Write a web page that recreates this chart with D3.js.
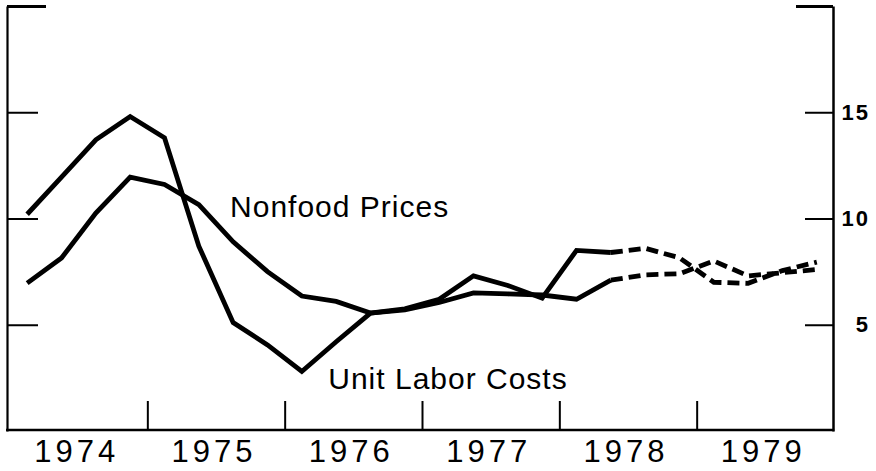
<!DOCTYPE html>
<html>
<head>
<meta charset="utf-8">
<script src="https://cdn.jsdelivr.net/npm/d3@7"></script>
<style>
body { margin: 0; background: #fff; }
svg { display: block; font-family: "Liberation Sans", Arial, Helvetica, sans-serif; }
</style>
</head>
<body>
<svg id="canvas" width="876" height="471"></svg>
<script>
// quarterly, Q1 1974 .. Q4 1979 (percent change)
var years = ["1974", "1975", "1976", "1977", "1978", "1979"];
var unitLaborCosts = [10.2, 11.95, 13.7, 14.8, 13.8, 8.7, 5.1, 4.05, 2.8, 4.2, 5.55, 5.75,
	6.2, 7.3, 6.85, 6.25, 8.5, 8.4, 8.6, 8.15, 7.0, 6.95, 7.55, 7.95];
var nonfoodPrices = [6.96, 8.14, 10.26, 11.95, 11.6, 10.65, 8.9, 7.5, 6.35, 6.1, 5.55, 5.7,
	6.05, 6.5, 6.45, 6.4, 6.2, 7.1, 7.35, 7.4, 8.0, 7.3, 7.45, 7.6];
var lastActual = 17; // dashed (projected) after this quarter
var rightTicks = [5, 10, 15];
var topTick = [20];
var yearTicks = [4, 8, 12, 16, 20];
var labels = [
	{text: "Nonfood Prices", q: 6.41, v: 10.05},
	{text: "Unit Labor Costs", q: 9.27, v: 2.0}
];

var left = 7, right = 833, bottom = 430;

var x = d3.scaleLinear().domain([0, 24]).range([10, 834]);
var y = d3.scaleLinear().domain([0, 20]).range([431, 6]);
var svg = d3.select("#canvas");

function toPoints(values){
	return values.map(function(v, i){
		return {q: i + 0.5, v: v};
	});
}

function drawAxes(){
	// left side: ticks only
	var l = svg.append("g")
		.attr("transform", "translate(" + left + ",0)")
		.call(d3.axisLeft(y).tickValues(rightTicks).tickSizeInner(-31).tickSizeOuter(0).tickFormat(""));
	l.select(".domain").attr("stroke-width", 2.2);
	l.selectAll(".tick line").attr("stroke-width", 2);

	svg.append("g")
		.attr("transform", "translate(" + left + ",0)")
		.call(d3.axisLeft(y).tickValues(topTick).tickSize(-39).tickFormat(""))
		.call(function(g){ g.select(".domain").remove(); })
		.selectAll(".tick line").attr("stroke-width", 3.2);

	// right side with labels
	var r = svg.append("g")
		.attr("transform", "translate(" + right + ",0)")
		.call(d3.axisRight(y).tickValues(rightTicks).tickSizeInner(-28).tickSizeOuter(0).tickPadding(0));
	r.select(".domain").attr("stroke-width", 2.5);
	r.selectAll(".tick line").attr("stroke-width", 2);
	r.selectAll(".tick text")
		.attr("x", 37)
		.attr("text-anchor", "end")
		.attr("font-size", 22)
		.attr("font-weight", "bold")
		.attr("letter-spacing", 2)
		.attr("fill", "#000");

	svg.append("g")
		.attr("transform", "translate(" + right + ",0)")
		.call(d3.axisRight(y).tickValues(topTick).tickSize(-37).tickFormat(""))
		.call(function(g){ g.select(".domain").remove(); })
		.selectAll(".tick line").attr("stroke-width", 3.2);

	// bottom: year boundaries
	var b = svg.append("g")
		.attr("transform", "translate(0," + bottom + ")")
		.call(d3.axisBottom(x).tickValues(yearTicks).tickSize(-29).tickFormat(""));
	b.select(".domain").remove();
	b.selectAll(".tick line").attr("stroke-width", 2);

	svg.append("line")
		.attr("x1", left - 1).attr("x2", right + 1.2)
		.attr("y1", bottom).attr("y2", bottom)
		.attr("stroke", "#000")
		.attr("stroke-width", 2.6);

	svg.append("g")
		.selectAll("text")
		.data(years)
		.enter()
		.append("text")
		.attr("x", function(d, i){ return x(i * 4 + 2) - 2; })
		.attr("y", 462)
		.attr("text-anchor", "middle")
		.attr("font-size", 31)
		.attr("letter-spacing", 4)
		.text(function(d){ return d; });
}

function drawLines(){
	var line = d3.line()
		.x(function(d){ return x(d.q); })
		.y(function(d){ return y(d.v); });

	[unitLaborCosts, nonfoodPrices].forEach(function(values){
		var pts = toPoints(values);
		svg.append("path")
			.attr("d", line(pts.slice(0, lastActual + 1)))
			.attr("style", "fill: none; stroke: #000; stroke-width: 4.8; stroke-linejoin: miter;");
		svg.append("path")
			.attr("d", line(pts.slice(lastActual)))
			.attr("style", "fill: none; stroke: #000; stroke-width: 4.8; stroke-dasharray: 12,6;");
	});

	svg.append("g")
		.selectAll("text")
		.data(labels)
		.enter()
		.append("text")
		.attr("x", function(d){ return x(d.q); })
		.attr("y", function(d){ return y(d.v); })
		.attr("font-size", 30)
		.attr("letter-spacing", 1)
		.text(function(d){ return d.text; });
}

drawAxes();
drawLines();
</script>
</body>
</html>
